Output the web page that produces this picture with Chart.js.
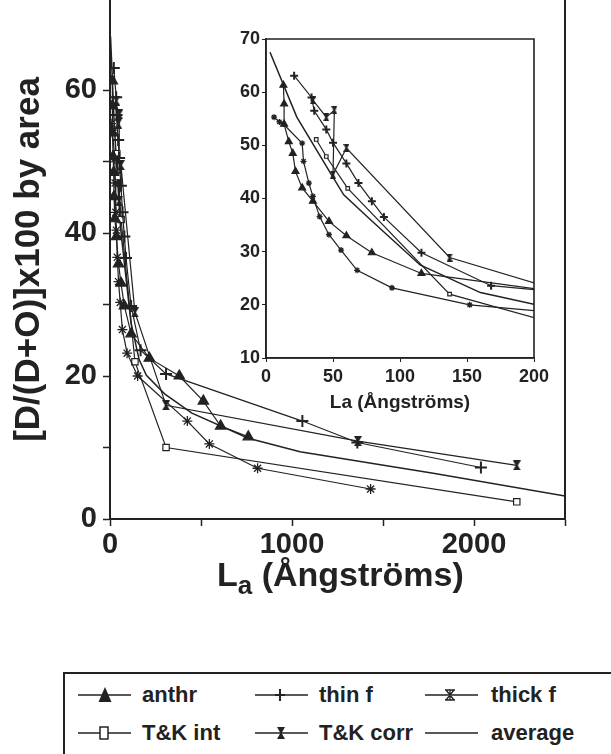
<!DOCTYPE html>
<html>
<head>
<meta charset="utf-8">
<script src="https://cdn.jsdelivr.net/npm/chart.js@4.4.1/dist/chart.umd.min.js"></script>
<style>
  body { margin: 0; background: #fff; width: 611px; height: 754px; overflow: hidden; position: relative;
         font-family: "Liberation Sans", Arial, Helvetica, sans-serif; color: #222; }
  #main { position: absolute; left: 0; top: 0; }
  #inset { position: absolute; left: 200px; top: 19px; }
  #xtitle { position: absolute; left: 217px; top: 554px; font-size: 34px; font-weight: bold; white-space: nowrap; line-height: 40px; }
  #xtitle sub { font-size: 26px; vertical-align: -8px; line-height: 0; }
  #legend { position: absolute; left: 63px; top: 672px; width: 600px; height: 100px;
            border-top: 2px solid #222; border-left: 2px solid #222; }
  .item { position: absolute; font-size: 22px; font-weight: bold; line-height: 26px; white-space: nowrap; }
  .sym { position: absolute; }
</style>
</head>
<body>
<canvas id="main" width="611" height="560"></canvas>
<canvas id="inset" width="350" height="396"></canvas>
<div id="xtitle">L<sub>a</sub> (Ångströms)</div>
<div id="legend"></div>
<script>
// La in Ångströms, values are [D/(D+O)]x100 by area
var anthrLa  = [13, 13.5, 13.5, 17, 20, 22, 27, 35, 47, 60, 79, 116, 216, 381, 513, 608, 760];
var anthrVal = [61.3, 57.8, 54, 50.7, 48.5, 45.1, 42, 39.5, 35.7, 33, 29.8, 25.9, 22.5, 20, 16.5, 13, 11.5];

var thinLa  = [21, 34, 36, 45, 50, 60, 69, 79, 88, 116, 168, 308, 1057, 1359, 2038];
var thinVal = [63.1, 59, 56.5, 53, 50.5, 46.6, 42.9, 39.5, 36.5, 29.8, 23.6, 20.3, 13.7, 10.7, 7.2];

var thickLa  = [6, 10, 13, 27, 28, 32, 35, 40, 47, 56, 68, 94, 152, 425, 546, 811, 1432];
var thickVal = [55.3, 54.4, 54, 50.4, 47, 42.9, 40.4, 36.6, 33.2, 30.3, 26.5, 23.2, 20, 13.7, 10.5, 7.1, 4.2];

var tkIntLa  = [37.5, 45, 61, 137, 308, 2235];
var tkIntVal = [51.1, 47.9, 41.9, 22, 10, 2.4];

var tkCorrLa  = [35, 45, 51, 50, 60, 137, 308, 1362, 2235];
var tkCorrVal = [58.5, 55.3, 56.6, 44.5, 49.5, 28.9, 15.9, 10.9, 7.5];

var avgLa  = [3, 23, 48, 58, 78, 115, 160, 200, 300, 450, 760, 1044, 1776, 2500];
var avgVal = [67.5, 55.3, 44.8, 40.7, 36, 27.5, 22.3, 20.1, 17.5, 14.8, 11.3, 9.4, 6.4, 3.2];

var mainXTicks = [0, 500, 1000, 1500, 2000, 2500];
var mainYTicks = [0, 10, 20, 30, 40, 50, 60];
var insetXTicks = [0, 50, 100, 150, 200];
var insetYTicks = [10, 20, 30, 40, 50, 60, 70];

var ink = '#222';
var font = '"Liberation Sans", Arial, Helvetica, sans-serif';

function pts(xs, ys) {
  return xs.map(function (x, i) { return { x: x, y: ys[i] }; });
}

// small filled hourglass for T&K corr
function hourglass(w, h) {
  var c = document.createElement('canvas');
  c.width = w; c.height = h;
  var g = c.getContext('2d');
  g.fillStyle = ink;
  g.beginPath();
  g.moveTo(0, 0); g.lineTo(w, 0); g.lineTo(w / 2 + 1, h / 2); g.lineTo(w, h); g.lineTo(0, h); g.lineTo(w / 2 - 1, h / 2);
  g.closePath();
  g.fill();
  return c;
}

function sets(r) {
  var base = { borderColor: ink, borderWidth: 1.2, pointBorderColor: ink, pointBorderWidth: 1.2, showLine: true, tension: 0 };
  return [
    Object.assign({}, base, { label: 'anthr', data: pts(anthrLa, anthrVal), pointStyle: 'triangle', pointRadius: r + 1, pointBackgroundColor: ink }),
    Object.assign({}, base, { label: 'thin f', data: pts(thinLa, thinVal), pointStyle: 'cross', pointRadius: r + 1, pointBorderWidth: 2 }),
    Object.assign({}, base, { label: 'thick f', data: pts(thickLa, thickVal), pointStyle: 'star', pointRadius: r, pointBorderWidth: 1.3 }),
    Object.assign({}, base, { label: 'T&K int', data: pts(tkIntLa, tkIntVal), pointStyle: 'rect', pointRadius: r - 0.5, pointBackgroundColor: '#fff' }),
    Object.assign({}, base, { label: 'T&K corr', data: pts(tkCorrLa, tkCorrVal), pointStyle: hourglass(r + 3, r + 5), pointRadius: r }),
    Object.assign({}, base, { label: 'average', data: pts(avgLa, avgVal), pointRadius: 0, borderWidth: 1.5 })
  ];
}

var frame = {
  id: 'frame',
  afterDraw: function (chart, args, opts) {
    var a = chart.chartArea, ctx = chart.ctx;
    ctx.save();
    ctx.strokeStyle = ink;
    ctx.lineWidth = opts.width;
    ctx.beginPath();
    if (opts.full) {
      ctx.rect(a.left, a.top, a.right - a.left, a.bottom - a.top);
    } else {
      ctx.moveTo(a.right, a.top); ctx.lineTo(a.right, a.bottom);
    }
    ctx.stroke();
    ctx.restore();
  }
};

function fixTicks(list) {
  return function (s) { s.ticks = list.map(function (v) { return { value: v }; }); };
}

// pin the axis box sizes so the plot area sits where the figure has it
function fitX(h) {
  return function (s) { s.height = h; s.paddingLeft = 0; s.paddingRight = 0; };
}
function fitY(w) {
  return function (s) { s.width = w; s.paddingTop = 0; s.paddingBottom = 0; };
}

new Chart(document.getElementById('main'), {
  type: 'scatter',
  data: { datasets: sets(5) },
  plugins: [frame],
  options: {
    responsive: false,
    animation: false,
    layout: { autoPadding: false, padding: { left: 0, right: 46, top: 0, bottom: 0 } },
    plugins: { legend: { display: false }, tooltip: { enabled: false }, frame: { width: 2, full: false } },
    scales: {
      x: {
        type: 'linear', min: 0, max: 2500,
        afterBuildTicks: fixTicks(mainXTicks),
        afterFit: fitX(41),
        border: { color: ink, width: 2 },
        grid: { drawOnChartArea: false, tickLength: 7, tickColor: ink, tickWidth: 1.5 },
        ticks: { color: ink, padding: 2, maxRotation: 0, autoSkip: false,
                 font: { family: font, size: 29, weight: 'bold' },
                 callback: function (v) { return v % 1000 === 0 ? v : ''; } }
      },
      y: {
        min: 0, max: 72.6,
        afterBuildTicks: fixTicks(mainYTicks),
        afterFit: fitY(110),
        border: { color: ink, width: 2 },
        grid: { drawOnChartArea: false, tickLength: 7, tickColor: ink, tickWidth: 1.5 },
        ticks: { color: ink, padding: 6, autoSkip: false,
                 font: { family: font, size: 29, weight: 'bold' },
                 callback: function (v) { return v % 20 === 0 ? v : ''; } },
        title: { display: true, text: '[D/(D+O)]x100 by area', color: ink,
                 font: { family: font, size: 35, weight: 'bold' }, padding: { top: 8, bottom: 0 } }
      }
    }
  }
});

new Chart(document.getElementById('inset'), {
  type: 'scatter',
  data: { datasets: sets(3) },
  plugins: [frame],
  options: {
    responsive: false,
    animation: false,
    layout: { autoPadding: false, padding: { left: 0, right: 16, top: 20, bottom: 0 } },
    plugins: { legend: { display: false }, tooltip: { enabled: false }, frame: { width: 1.6, full: true } },
    scales: {
      x: {
        type: 'linear', min: 0, max: 200,
        afterBuildTicks: fixTicks(insetXTicks),
        afterFit: fitX(57),
        border: { color: ink, width: 1.6 },
        grid: { drawOnChartArea: false, tickLength: 4, tickColor: ink, tickWidth: 1 },
        ticks: { color: ink, padding: 4, maxRotation: 0, autoSkip: false,
                 font: { family: font, size: 18, weight: 'bold' } },
        title: { display: true, text: 'La (Ångströms)', color: ink,
                 font: { family: font, size: 19, weight: 'bold' }, padding: { top: 0, bottom: 1 } }
      },
      y: {
        min: 10, max: 70,
        afterBuildTicks: fixTicks(insetYTicks),
        afterFit: fitY(66),
        border: { color: ink, width: 1.6 },
        grid: { drawOnChartArea: false, tickLength: 4, tickColor: ink, tickWidth: 1 },
        ticks: { color: ink, padding: 2, autoSkip: false,
                 font: { family: font, size: 18, weight: 'bold' } }
      }
    }
  }
});

// legend, laid out as in the figure: two rows of three
var legendItems = [
  { label: 'anthr', sym: 'tri', col: 0, row: 0 },
  { label: 'thin f', sym: 'plus', col: 1, row: 0 },
  { label: 'thick f', sym: 'star', col: 2, row: 0 },
  { label: 'T&K int', sym: 'box', col: 0, row: 1 },
  { label: 'T&K corr', sym: 'hour', col: 1, row: 1 },
  { label: 'average', sym: 'none', col: 2, row: 1 }
];
var colSym = [13, 190, 360];
var colText = [77, 254, 426];
var rowY = [21, 59];

function symbolSvg(kind) {
  var line = '<line x1="0" y1="10" x2="53" y2="10" stroke="#222" stroke-width="1.3"/>';
  var m = '';
  if (kind === 'tri') m = '<polygon points="27,2 33.5,17 20.5,17" fill="#222"/>';
  if (kind === 'plus') m = '<path d="M25 4 V16 M20 10 H30" stroke="#222" stroke-width="2"/>';
  if (kind === 'star') m = '<path d="M21 5 L29 15 M29 5 L21 15 M20 5 H30 M20 15 H30 M25 5 V15" stroke="#222" stroke-width="1.3"/>';
  if (kind === 'box') m = '<rect x="22" y="4" width="8" height="12" fill="#fff" stroke="#222" stroke-width="1.5"/>';
  if (kind === 'hour') m = '<polygon points="22,4 30,4 26.6,10 30,16 22,16 25.4,10" fill="#222"/>';
  return '<svg width="54" height="20">' + line + m + '</svg>';
}

var legend = document.getElementById('legend');
legendItems.forEach(function (it) {
  var s = document.createElement('div');
  s.className = 'sym';
  s.style.left = colSym[it.col] + 'px';
  s.style.top = (rowY[it.row] - 10) + 'px';
  s.innerHTML = symbolSvg(it.sym);
  legend.appendChild(s);
  var t = document.createElement('div');
  t.className = 'item';
  t.style.left = colText[it.col] + 'px';
  t.style.top = (rowY[it.row] - 13) + 'px';
  t.textContent = it.label;
  legend.appendChild(t);
});
</script>
</body>
</html>
